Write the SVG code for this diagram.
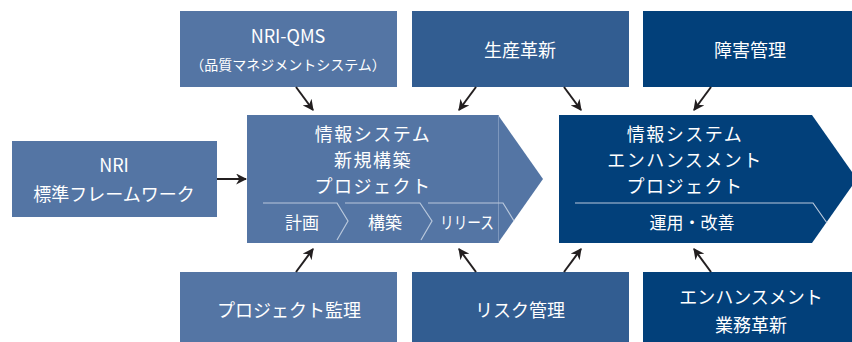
<svg xmlns="http://www.w3.org/2000/svg" width="852" height="342" viewBox="0 0 852 342">
<style>
.l{fill:#5475a4}.m{fill:#325d91}.d{fill:#02407a}
text{font-family:"Noto Sans CJK JP","Noto Sans",sans-serif;fill:#fff;text-anchor:middle;dominant-baseline:central}
.t18{font-size:18px}.t14{font-size:14px}.t20{font-size:18px;letter-spacing:1.5px}.t17{font-size:17px}
.sub{fill:none;stroke:#b9c8dc;stroke-width:1.2}
.arr{stroke:#231f20;stroke-width:2;fill:none;marker-end:url(#ah)}
</style>
<defs>
<marker id="ah" viewBox="0 0 10 10" refX="9" refY="5" markerWidth="11" markerHeight="11" markerUnits="userSpaceOnUse" orient="auto"><path d="M0,0 L10,5 L0,10 L3,5 z" fill="#231f20"/></marker>
</defs>
<rect width="852" height="342" fill="#fff"/>
<g id="qms"><rect class="l" x="180" y="11" width="217" height="76"/><text class="t18" x="288" y="35">NRI-QMS</text><text class="t14" x="288" y="64">（品質マネジメントシステム）</text></g>
<g id="seisan"><rect class="m" x="412" y="11" width="217" height="76"/><text class="t18" x="520" y="49">生産革新</text></g>
<g id="shogai"><rect class="d" x="643" y="11" width="209" height="76"/><text class="t18" x="750" y="49">障害管理</text></g>
<g id="nri"><rect class="l" x="12" y="141" width="205" height="76"/><text class="t18" x="114" y="164">NRI</text><text class="t18" x="114" y="193">標準フレームワーク</text></g>
<g id="pm"><rect class="l" x="180" y="272" width="217" height="70"/><text class="t18" x="289" y="309">プロジェクト監理</text></g>
<g id="risk"><rect class="m" x="412" y="272" width="217" height="70"/><text class="t18" x="520" y="309">リスク管理</text></g>
<g id="enh"><rect class="d" x="643" y="272" width="209" height="70"/><text class="t18" x="751" y="296">エンハンスメント</text><text class="t18" x="751" y="324">業務革新</text></g>
<g id="newproj">
<polygon class="l" points="247,115 498,115 543,179 498,243 247,243"/>
<line x1="498.5" y1="115" x2="498.5" y2="243" stroke="#7d97bd" stroke-width="1"/>
<text class="t20" x="373" y="133">情報システム</text>
<text class="t20" x="373" y="159">新規構築</text>
<text class="t20" x="373" y="185">プロジェクト</text>
<polyline class="sub" points="263,203 337,203 348,221 337,240"/>
<polyline class="sub" points="345,203 420,203 432,221 421,240"/>
<polyline class="sub" points="428,203 503,203 514,221"/>
<text class="t17" x="302" y="221">計画</text>
<text class="t17" x="385" y="221">構築</text>
<text class="t17" x="467" y="221" textLength="54" lengthAdjust="spacingAndGlyphs">リリース</text>
</g>
<g id="enhproj">
<polygon class="d" points="559,115 812,115 857,179 812,243 559,243"/>
<text class="t20" x="685" y="133">情報システム</text>
<text class="t20" x="685" y="159">エンハンスメント</text>
<text class="t20" x="685" y="185">プロジェクト</text>
<polyline class="sub" points="575,203 813,203 827,223"/>
<text class="t17" x="692" y="221">運用・改善</text>
</g>
<g id="connectors">
<line class="arr" x1="296" y1="87" x2="313" y2="110"/>
<line class="arr" x1="476" y1="87" x2="459" y2="110"/>
<line class="arr" x1="564" y1="87" x2="581" y2="110"/>
<line class="arr" x1="711" y1="87" x2="694" y2="110"/>
<line class="arr" x1="217" y1="179" x2="246" y2="179"/>
<line class="arr" x1="296" y1="272" x2="313" y2="249"/>
<line class="arr" x1="476" y1="272" x2="459" y2="249"/>
<line class="arr" x1="564" y1="272" x2="581" y2="249"/>
<line class="arr" x1="711" y1="272" x2="694" y2="249"/>
</g>
</svg>
